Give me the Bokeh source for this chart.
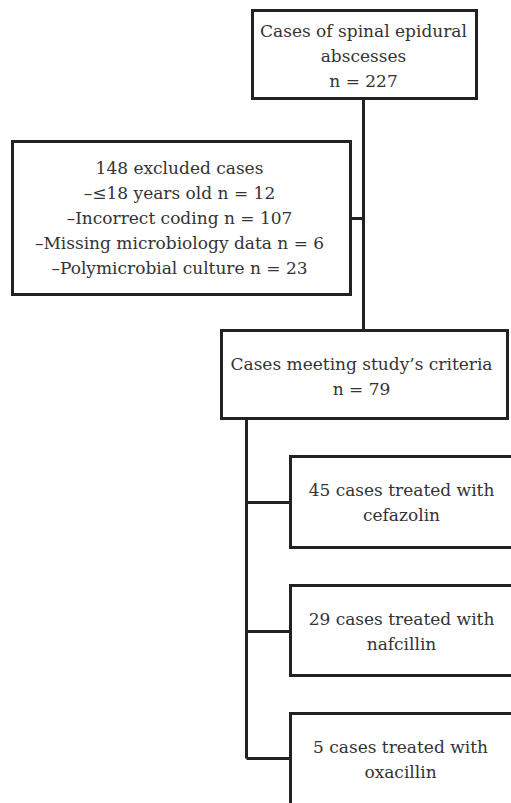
from bokeh.plotting import figure
from bokeh.models import ColumnDataSource, Range1d
from bokeh.core.properties import value
from bokeh.embed import file_html
from bokeh.resources import INLINE

# ---- content ----
box_names = ["total", "excluded", "included", "cefazolin", "nafcillin", "oxacillin"]
box_text = [
    ["Cases of spinal epidural", "abscesses", "n = 227"],
    ["148 excluded cases", "\u2013\u226418 years old n = 12", "\u2013Incorrect coding n = 107",
     "\u2013Missing microbiology data n = 6", "\u2013Polymicrobial culture n = 23"],
    ["Cases meeting study\u2019s criteria", "n = 79"],
    ["45 cases treated with", "cefazolin"],
    ["29 cases treated with", "nafcillin"],
    ["5 cases treated with", "oxacillin"],
]

# ---- layout (page pixel coordinates) ----
box_left = [252, 12, 221, 290, 290, 290]
box_right = [476, 350, 507, 520, 520, 520]
box_top = [10, 141, 330, 456, 585, 713]
box_bottom = [98, 294, 418, 547, 675, 815]
text_x = [363, 179, 361, 401, 401, 400]
text_y0 = [30, 167, 363, 489, 618, 746]
line_gap = 25

W, H = 511, 803
p = figure(width=W, height=H, output_backend="svg", toolbar_location=None,
           x_range=Range1d(0, W), y_range=Range1d(H, 0),
           min_border=0)
p.axis.visible = False
p.grid.visible = False
p.outline_line_color = None
p.background_fill_color = "white"

col = "#222222"
lw = 3

# connectors
xs = [[363, 363], [350, 363], [246, 246], [246, 290], [246, 290], [246, 290]]
ys = [[98, 330], [218, 218], [418, 758], [502, 502], [631, 631], [758, 758]]
p.multi_line(xs=xs, ys=ys, line_color=col, line_width=lw)

# boxes
p.quad(left=box_left, right=box_right, top=box_top, bottom=box_bottom,
       fill_color="white", line_color=col, line_width=lw, line_join="miter")

# texts
tx, ty, tt = [], [], []
for i, lines in enumerate(box_text):
    for j, s in enumerate(lines):
        tx.append(text_x[i])
        ty.append(text_y0[i] + j * line_gap)
        tt.append(s)
src = ColumnDataSource(dict(x=tx, y=ty, t=tt))
p.text(x="x", y="y", text="t", source=src, text_align="center",
       text_baseline="middle", text_color="#333333",
       text_font=value("DejaVu Serif"), text_font_size=value("17px"))

open("out.html", "w").write(file_html(p, INLINE))
